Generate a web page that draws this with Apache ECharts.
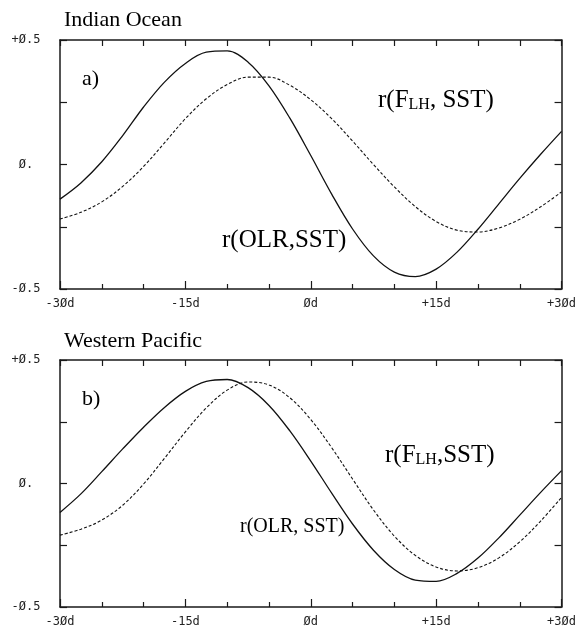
<!DOCTYPE html>
<html>
<head>
<meta charset="utf-8">
<script src="https://cdn.jsdelivr.net/npm/echarts@6/dist/echarts.min.js"></script>
<style>
html,body{margin:0;padding:0;background:#fff;}
#chart{width:579px;height:628px;}
</style>
</head>
<body>
<div id="chart"></div>
<script>
// lag in days
var lags = [-30,-27.5,-25,-22.5,-20,-17.5,-15,-12.5,-10,-7.5,-5,-2.5,0,2.5,5,7.5,10,12.5,15,17.5,20,22.5,25,27.5,30];
// Indian Ocean
var ioOLR = [-0.139,-0.074,0.011,0.116,0.231,0.331,0.406,0.451,0.456,0.411,0.316,0.186,0.036,-0.119,-0.259,-0.367,-0.432,-0.450,-0.420,-0.352,-0.260,-0.158,-0.056,0.041,0.133];
var ioFLH = [-0.219,-0.192,-0.150,-0.088,-0.008,0.087,0.184,0.264,0.321,0.351,0.351,0.318,0.260,0.184,0.094,0.000,-0.090,-0.169,-0.229,-0.264,-0.271,-0.255,-0.220,-0.170,-0.110];
// Western Pacific
var wpOLR = [-0.117,-0.042,0.048,0.140,0.228,0.308,0.373,0.413,0.421,0.388,0.316,0.213,0.091,-0.039,-0.164,-0.270,-0.348,-0.391,-0.396,-0.364,-0.302,-0.220,-0.128,-0.036,0.052];
var wpFLH = [-0.209,-0.185,-0.148,-0.088,-0.002,0.102,0.209,0.306,0.378,0.411,0.399,0.347,0.259,0.145,0.018,-0.107,-0.213,-0.291,-0.338,-0.354,-0.341,-0.301,-0.236,-0.152,-0.056];
var xTickLabels = {'-30':'-3Ød','-15':'-15d','0':'Ød','15':'+15d','30':'+3Ød'};
var yTickLabels = {'-0.5':'-Ø.5','0':'Ø.','0.5':'+Ø.5'};

function pairs(xs, ys){ return xs.map(function(x,i){return [x, ys[i]];}); }

var chart = echarts.init(document.getElementById('chart'), null, {renderer:'canvas'});
var axisColor = '#1a1a1a';
var monoFont = 'DejaVu Sans Mono';
function xBottom(grid){
  return {type:'value', gridIndex:grid, position:'bottom', min:-30, max:30, interval:15,
    axisLine:{show:true, onZero:false, lineStyle:{color:axisColor, width:1.5}},
    axisTick:{show:true, inside:true, length:8, lineStyle:{color:axisColor, width:1.2}},
    minorTick:{show:true, splitNumber:3, length:5, lineStyle:{color:axisColor, width:1.2}},
    splitLine:{show:false},
    axisLabel:{show:true, margin:9, color:'#222', fontFamily:monoFont, fontSize:12,
      formatter:function(v){ return xTickLabels[String(v)] || ''; }}};
}
function xTop(grid){
  return {type:'value', gridIndex:grid, position:'top', min:-30, max:30, interval:15,
    axisLine:{show:true, onZero:false, lineStyle:{color:axisColor, width:1.5}},
    axisTick:{show:true, inside:true, length:6, lineStyle:{color:axisColor, width:1.2}},
    minorTick:{show:true, splitNumber:3, length:6, lineStyle:{color:axisColor, width:1.2}},
    splitLine:{show:false}, axisLabel:{show:false}};
}
function yLeft(grid){
  return {type:'value', gridIndex:grid, position:'left', min:-0.5, max:0.5, interval:0.25,
    axisLine:{show:true, onZero:false, lineStyle:{color:axisColor, width:1.5}},
    axisTick:{show:true, inside:true, length:7, lineStyle:{color:axisColor, width:1.2}},
    splitLine:{show:false},
    axisLabel:{show:true, margin:34, align:'center', color:'#222', fontFamily:monoFont, fontSize:12,
      formatter:function(v){ return yTickLabels[String(v)] || ''; }}};
}
function yRight(grid){
  return {type:'value', gridIndex:grid, position:'right', min:-0.5, max:0.5, interval:0.25,
    axisLine:{show:true, onZero:false, lineStyle:{color:axisColor, width:1.5}},
    axisTick:{show:true, inside:true, length:7, lineStyle:{color:axisColor, width:1.2}},
    splitLine:{show:false}, axisLabel:{show:false}};
}
function line(name, xi, yi, data, dashed){
  return {type:'line', name:name, xAxisIndex:xi, yAxisIndex:yi, data:data, smooth:0.35,
    showSymbol:false, symbol:'none', silent:true,
    lineStyle:{color:'#111', width:dashed?1.1:1.3, type: dashed?[3,2]:'solid'}};
}
var serif = 'Liberation Serif';
var annSize = 25;
var richSub = {
  a:{fontFamily:serif, fontSize:annSize, lineHeight:26, verticalAlign:'middle', color:'#000'},
  s:{fontFamily:serif, fontSize:16, lineHeight:26, verticalAlign:'bottom', color:'#000'}
};
function fl(x, y, str){
  return {type:'text', x:x, y:y, silent:true,
    style:{text:str, rich:richSub, fill:'#000', align:'left', verticalAlign:'middle'}};
}
function plain(x, y, str, size){
  return {type:'text', x:x, y:y, silent:true,
    style:{text:str, font:size + 'px ' + serif, fill:'#000', align:'left', verticalAlign:'middle'}};
}

chart.setOption({
  animation:false,
  backgroundColor:'#fff',
  grid:[
    {left:60, top:40, width:504, height:249, containLabel:false},
    {left:60, top:360, width:504, height:250, containLabel:false}
  ],
  xAxis:[xBottom(0), xTop(0), xBottom(1), xTop(1)],
  yAxis:[yLeft(0), yRight(0), yLeft(1), yRight(1)],
  series:[
    line('r(OLR,SST) IO', 0, 0, pairs(lags, ioOLR), false),
    line('r(FLH,SST) IO', 0, 0, pairs(lags, ioFLH), true),
    line('r(OLR,SST) WP', 2, 2, pairs(lags, wpOLR), false),
    line('r(FLH,SST) WP', 2, 2, pairs(lags, wpFLH), true)
  ],
  graphic:[
    plain(64, 20, 'Indian Ocean', 22),
    plain(64, 341, 'Western Pacific', 22),
    plain(82, 79, 'a)', 22),
    plain(82, 399, 'b)', 22),
    plain(222, 240, 'r(OLR,SST)', annSize),
    fl(378, 100, '{a|r(F}{s|LH}{a|, SST)}'),
    fl(385, 455, '{a|r(F}{s|LH}{a|,SST)}'),
    plain(240, 527, 'r(OLR, SST)', 20)
  ]
});
</script>
</body>
</html>
